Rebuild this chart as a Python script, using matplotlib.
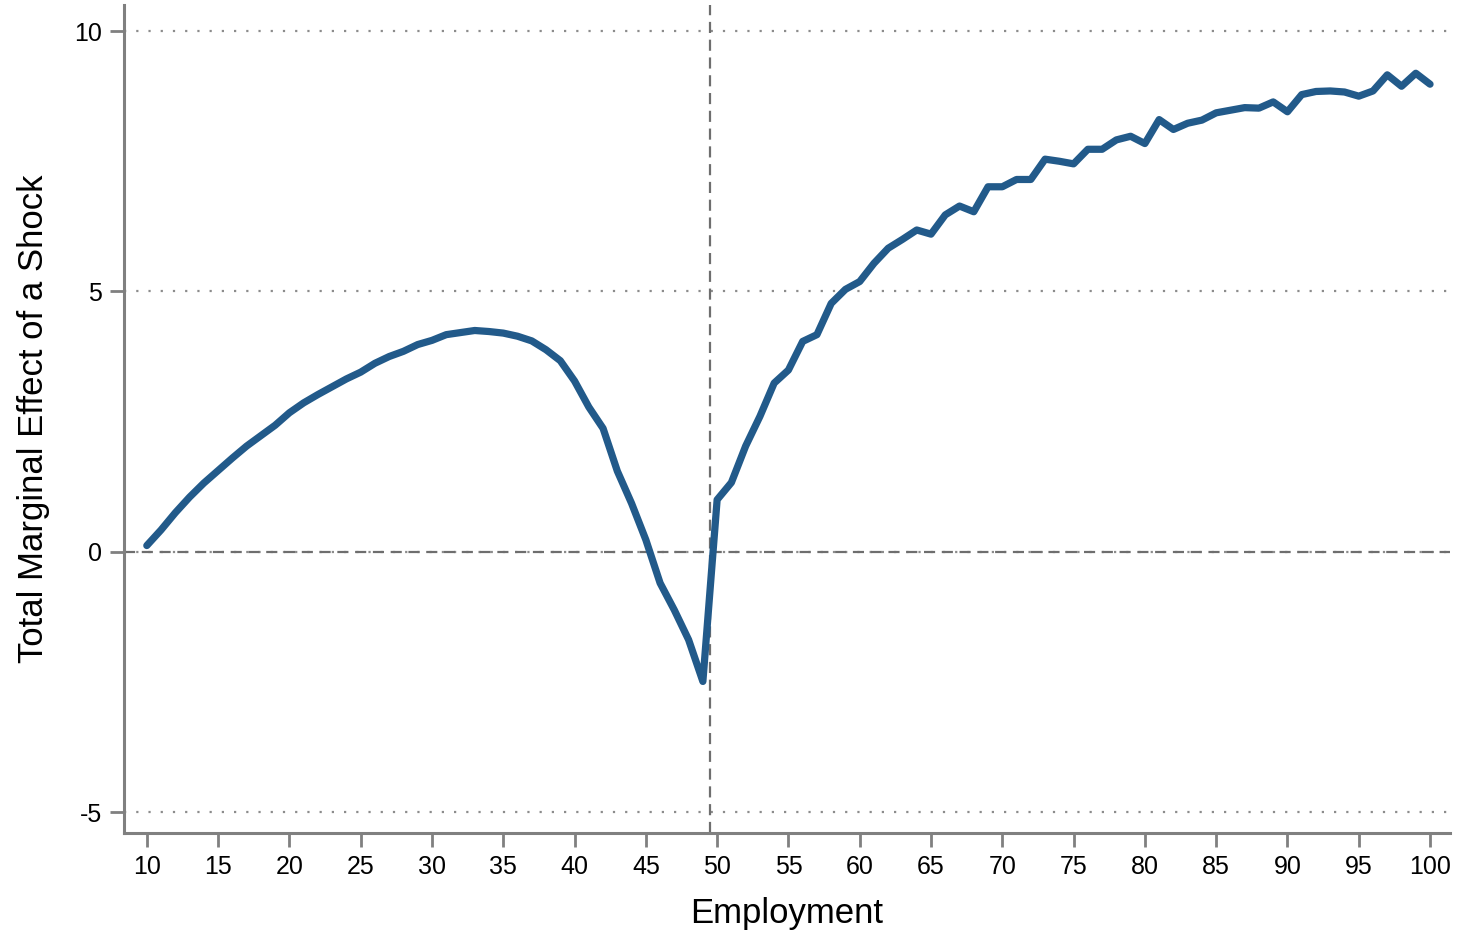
import numpy as np
import matplotlib.pyplot as plt

plt.rcParams['font.family'] = ['Liberation Sans', 'DejaVu Sans']
plt.rcParams['axes.unicode_minus'] = False

employment = list(range(10, 101))
effect = [
    0.12, 0.42, 0.75, 1.05, 1.32, 1.56, 1.80, 2.03, 2.23, 2.43,   # 10-19
    2.67, 2.86, 3.02, 3.17, 3.32, 3.45, 3.62, 3.75, 3.85, 3.98,   # 20-29
    4.06, 4.17, 4.21, 4.25, 4.23, 4.20, 4.14, 4.05, 3.88, 3.67,   # 30-39
    3.28, 2.78, 2.37, 1.55, 0.93, 0.23, -0.60, -1.12, -1.69, -2.49,  # 40-49
    1.00, 1.33, 2.03, 2.60, 3.24, 3.49, 4.04, 4.17, 4.77, 5.04,   # 50-59
    5.19, 5.54, 5.83, 6.00, 6.18, 6.10, 6.47, 6.64, 6.53, 7.01,   # 60-69
    7.01, 7.15, 7.15, 7.54, 7.50, 7.45, 7.73, 7.73, 7.91, 7.98,   # 70-79
    7.84, 8.30, 8.11, 8.23, 8.29, 8.43, 8.48, 8.53, 8.52, 8.64,   # 80-89
    8.45, 8.78, 8.84, 8.85, 8.83, 8.75, 8.85, 9.16, 8.94, 9.19,   # 90-99
    8.98,                                                          # 100
]
x_ticks = list(range(10, 101, 5))
y_ticks = [-5, 0, 5, 10]
threshold = 49.5

fig = plt.figure(figsize=(14.57, 9.33), dpi=100)
ax = fig.add_axes([0.0851, 0.1072, 0.9101, 0.8874])

grey = '#808080'
for yv in y_ticks:
    ax.axhline(yv, color='#8c8c8c', lw=1.6, ls=(0, (1, 4.5)), zorder=1)
ax.axhline(0, color='#6e6e6e', lw=1.6, ls=(0, (5, 3)), zorder=2)
ax.axvline(threshold, color='#6e6e6e', lw=1.6, ls=(0, (5, 3)), zorder=2)

ax.plot(employment, effect, color='#225a8a', lw=5.2, solid_capstyle='round',
        solid_joinstyle='round', zorder=3)

ax.set_xlim(8.4, 101.4)
ax.set_ylim(-5.4, 10.5)
ax.set_xticks(x_ticks)
ax.set_yticks(y_ticks)
ax.tick_params(axis='both', length=10, width=2, color=grey, labelsize=18, pad=6)

for s in ['top', 'right']:
    ax.spines[s].set_visible(False)
for s in ['left', 'bottom']:
    ax.spines[s].set_color(grey)
    ax.spines[s].set_linewidth(2.2)

ax.set_xlabel('Employment', fontsize=25, labelpad=13)
ax.set_ylabel('Total Marginal Effect of a Shock', fontsize=25, labelpad=17)

plt.savefig('out.png', dpi=100)
